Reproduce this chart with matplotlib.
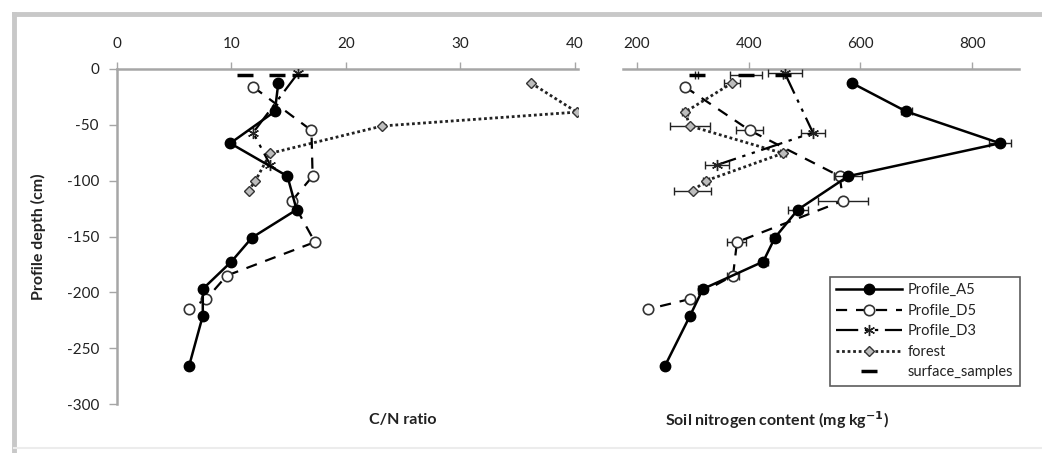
import matplotlib
matplotlib.use('Agg')
import matplotlib.pyplot as plt
from matplotlib.lines import Line2D

plt.rcParams['font.family'] = ['Lato', 'DejaVu Sans']
plt.rcParams['axes.unicode_minus'] = False

# depths (cm)
depth_A5 = [-12.6, -38, -66.5, -96, -126, -151, -172.5, -197, -221, -266]
depth_D5 = [-16, -55, -96, -118, -155, -185, -206, -215]
depth_D3 = [-4, -57, -86]
depth_forest = [-12.6, -38.6, -51, -75.5, -100, -109]
depth_surface = [-5, -5, -5]

# C/N ratio
cn_A5 = [14.1, 13.8, 9.9, 14.9, 15.7, 11.8, 10.0, 7.5, 7.5, 6.3]
cn_D5 = [11.9, 17.0, 17.1, 15.3, 17.3, 9.6, 7.8, 6.3]
cn_D3 = [15.8, 11.9, 13.4]
cn_forest = [36.2, 40.2, 23.2, 13.4, 12.1, 11.5]
cn_surface = [11.2, 14.0, 16.0]

# soil nitrogen content (mg kg-1) and error
n_A5 = [585, 682, 850, 578, 488, 447, 426, 318, 295, 250]
n_A5_err = [0, 10, 20, 25, 18, 8, 8, 8, 5, 5]
n_D5 = [286, 402, 563, 569, 379, 372, 295, 220]
n_D5_err = [0, 24, 10, 45, 17, 10, 0, 0]
n_D3 = [465, 515, 343]
n_D3_err = [30, 22, 21]
n_forest = [370, 286, 295, 461, 324, 300]
n_forest_err = [15, 5, 36, 5, 5, 33]
n_surface = [307, 395, 462]
n_surface_err = [3, 28, 0]

W, H = 1042, 453
fig = plt.figure(figsize=(W / 100, H / 100), dpi=100)
ax1 = fig.add_axes([117 / W, 1 - 404 / H, 461 / W, 335 / H])
ax2 = fig.add_axes([623 / W, 1 - 404 / H, 396 / W, 335 / H])

styles = {
    'A5': dict(color='black', lw=1.8, ls='-', marker='o', ms=7.5, mfc='black', mec='black', zorder=6),
    'D5': dict(color='black', lw=1.6, ls=(0, (5, 4)), marker='o', ms=7.5, mfc='white', mec='#333333', mew=1.2, zorder=5),
    'D3': dict(color='black', lw=1.6, ls=(0, (10, 3, 1.5, 3, 1.5, 3)), marker=(6, 2, 0), ms=8, mec='#222222', mew=1.0, zorder=4),
    'forest': dict(color='#222222', lw=2.0, ls=(0, (1, 1)), marker='D', ms=5.5, mfc='#bdbdbd', mec='#333333', mew=1.0, zorder=3),
    'surface': dict(color='black', ls='none', marker='_', ms=11, mew=2.5, zorder=7),
}
labels = {'A5': 'Profile_A5', 'D5': 'Profile_D5', 'D3': 'Profile_D3',
          'forest': 'forest', 'surface': 'surface_samples'}

left_data = {'A5': (cn_A5, depth_A5), 'D5': (cn_D5, depth_D5), 'D3': (cn_D3, depth_D3),
             'forest': (cn_forest, depth_forest), 'surface': (cn_surface, depth_surface)}
right_data = {'A5': (n_A5, depth_A5, n_A5_err), 'D5': (n_D5, depth_D5, n_D5_err),
              'D3': (n_D3, depth_D3, n_D3_err), 'forest': (n_forest, depth_forest, n_forest_err),
              'surface': (n_surface, depth_surface, n_surface_err)}

for key, (x, y) in left_data.items():
    ax1.plot(x, y, label=labels[key], **styles[key])

for key, (x, y, e) in right_data.items():
    ax2.errorbar(x, y, xerr=e, fmt='none', ecolor='#222222', elinewidth=1.0,
                 capsize=3, capthick=1.0, zorder=styles[key]['zorder'] - 0.5)
    ax2.plot(x, y, label=labels[key], **styles[key])

for ax in (ax1, ax2):
    ax.set_ylim(-300, 0)
    ax.xaxis.tick_top()
    for s in ('bottom', 'right'):
        ax.spines[s].set_visible(False)
    ax.spines['top'].set_color('#a6a6a6')
    ax.spines['top'].set_linewidth(1.8)
    ax.tick_params(axis='x', direction='out', length=5, width=1, color='#a6a6a6',
                   labelsize=11, pad=8, labelcolor='#222222')

ax1.set_xlim(0, 40.3)
ax1.set_xticks([0, 10, 20, 30, 40])
ax1.set_yticks(range(-300, 1, 50))
ax1.spines['left'].set_color('#a6a6a6')
ax1.spines['left'].set_linewidth(1.8)
ax1.tick_params(axis='y', direction='out', length=6, width=1, color='#a6a6a6',
                labelsize=11, pad=7, labelcolor='#222222')

ax2.set_xlim(175, 884)
ax2.set_xticks([200, 400, 600, 800])
ax2.spines['left'].set_visible(False)
ax2.set_yticks([])

fig.text(38 / W, 1 - 237 / H, 'Profile depth (cm)', rotation=90, ha='center', va='center',
         fontsize=11.5, fontweight='bold', color='#222222')
fig.text(403 / W, 1 - 420 / H, 'C/N ratio', ha='center', va='center',
         fontsize=11.5, fontweight='bold', color='#222222')
fig.text(777 / W, 1 - 420 / H, r'Soil nitrogen content (mg kg$^{\mathbf{-1}}$)', ha='center', va='center',
         fontsize=11.5, fontweight='bold', color='#222222')

handles, labs = ax1.get_legend_handles_labels()
order = [labs.index(labels[k]) for k in ('A5', 'D5', 'D3', 'forest', 'surface')]
leg = fig.legend([handles[i] for i in order], [labs[i] for i in order],
                 loc='lower right', bbox_to_anchor=(1020 / W, 1 - 386 / H),
                 fontsize=10.5, frameon=True, fancybox=False, handlelength=4.5,
                 borderpad=0.45, labelspacing=0.45, handletextpad=0.4, borderaxespad=0)
leg.get_frame().set_edgecolor('#333333')
leg.get_frame().set_linewidth(1.2)
for t in leg.get_texts():
    t.set_color('#222222')

# grey frame round the chart (top and left edges)
fig.add_artist(Line2D([14 / W, 1], [1 - 14 / H, 1 - 14 / H], color='#c8c8c8', lw=3.5))
fig.add_artist(Line2D([14 / W, 14 / W], [0, 1 - 14 / H], color='#c8c8c8', lw=3.5))
fig.add_artist(Line2D([14 / W, 1], [1 - 448 / H, 1 - 448 / H], color='#ececec', lw=1.5))

fig.savefig('out.png', dpi=100)
